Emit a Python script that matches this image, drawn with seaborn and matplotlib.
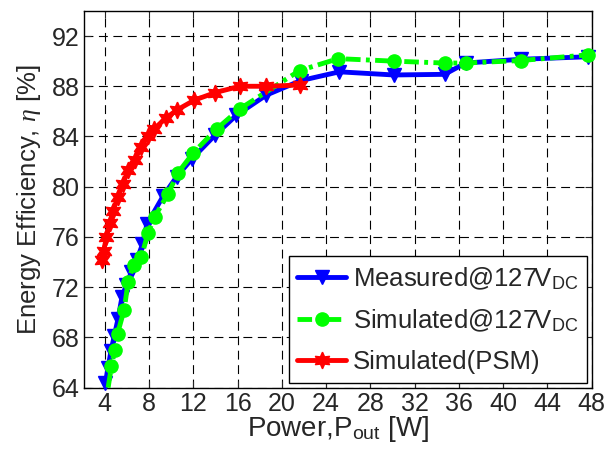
import matplotlib
matplotlib.use("Agg")
import matplotlib.pyplot as plt
import seaborn as sns
import pandas as pd

# Measured efficiency at 127 V DC input
p_meas = [4.05, 4.3, 4.55, 4.85, 5.2, 5.55, 5.95, 6.4, 6.9, 7.4, 7.8,
          9.3, 10.5, 11.85, 13.95, 15.9, 18.6, 21.7, 25.2, 30.1, 34.7,
          36.6, 41.6, 47.65]
eta_meas = [64.4, 65.6, 66.9, 68.1, 69.5, 71.2, 72.2, 73.2, 74.2, 75.4, 77.0,
            79.3, 80.8, 82.2, 84.1, 85.7, 87.3, 88.45, 89.15, 88.9, 88.95,
            89.85, 90.15, 90.35]

# Simulated efficiency at 127 V DC input
p_sim = [4.3, 4.6, 4.9, 5.15, 5.75, 6.1, 6.6, 7.3, 7.9, 8.5, 9.73, 10.6,
         12.0, 14.1, 16.2, 21.6, 25.1, 30.1, 34.7, 36.6, 41.6, 47.65]
eta_sim = [64.0, 65.7, 67.0, 68.3, 70.2, 72.4, 73.8, 74.4, 76.3, 77.6, 79.45,
           81.1, 82.7, 84.6, 86.2, 89.25, 90.2, 90.0, 89.85, 89.85, 90.05, 90.5]

# Simulated efficiency with phase-shift modulation
p_psm = [3.75, 3.9, 4.15, 4.45, 4.75, 5.2, 5.65, 6.1, 6.7, 7.3, 7.9, 8.45,
         9.5, 10.5, 12.1, 14.0, 16.2, 18.6, 21.6]
eta_psm = [74.2, 74.9, 76.0, 77.1, 78.1, 79.2, 80.25, 81.3, 82.1, 83.2, 84.0,
           84.6, 85.45, 86.1, 86.9, 87.5, 88.0, 88.0, 88.1]

labels = ["Measured@127V$_{\\mathrm{DC}}$",
          "Simulated@127V$_{\\mathrm{DC}}$",
          "Simulated(PSM)"]
x_ticks = list(range(4, 49, 4))
y_ticks = list(range(64, 93, 4))

sns.set_style("ticks")
plt.rcParams["font.family"] = ["Liberation Sans", "DejaVu Sans"]
plt.rcParams["mathtext.fontset"] = "custom"
plt.rcParams["mathtext.rm"] = "Liberation Sans"
plt.rcParams["mathtext.sf"] = "Liberation Sans"
plt.rcParams["mathtext.it"] = "Liberation Serif:italic"

fig = plt.figure(figsize=(6.16, 4.55), dpi=100)
ax = fig.add_axes([0.136, 0.148, 0.8246, 0.828])

df_meas = pd.DataFrame({"P": p_meas, "eta": eta_meas})
df_sim = pd.DataFrame({"P": p_sim, "eta": eta_sim})
df_psm = pd.DataFrame({"P": p_psm, "eta": eta_psm})

sns.lineplot(data=df_meas, x="P", y="eta", ax=ax, sort=False, estimator=None,
             color="#0000ff", linewidth=3.5, marker="v", markersize=10.5,
             markeredgecolor="#0000ff", markeredgewidth=1, label=labels[0],
             clip_on=False, zorder=3)
# the lowest simulated sample is drawn as a line end only
sns.lineplot(data=df_sim, x="P", y="eta", ax=ax, sort=False, estimator=None,
             color="#00ff00", linewidth=3.5, linestyle=(0, (3, 1.1, 0.8, 1.1)),
             marker="o", markersize=9.5, markeredgecolor="#00ff00",
             markeredgewidth=1, markevery=list(range(1, len(p_sim))),
             label=labels[1], clip_on=False, zorder=4)
sns.lineplot(data=df_psm, x="P", y="eta", ax=ax, sort=False, estimator=None,
             color="#ff0000", linewidth=3.5, marker=(6, 1, 0), markersize=12,
             markeredgecolor="#ff0000", markeredgewidth=1, label=labels[2],
             clip_on=False, zorder=5)

ax.set_xlim(2.1, 48)
ax.set_ylim(64, 94)
ax.set_xticks(x_ticks)
ax.set_yticks(y_ticks)
ax.tick_params(direction="in", top=True, right=True, length=5, width=0.8,
               labelsize=18, pad=3)
ax.grid(True, color="black", linestyle=(0, (8, 5)), linewidth=0.8)
for s in ax.spines.values():
    s.set_linewidth(1.0)
    s.set_color("black")

ax.set_xlabel("Power,P$_{\\mathrm{out}}$ [W]", fontsize=20, labelpad=-1)
ax.set_ylabel("Energy Efficiency, $\\eta$ [%]", fontsize=18.5, labelpad=6)

leg = ax.legend(loc="lower right", fontsize=18.5, frameon=True, fancybox=False,
                edgecolor="black", framealpha=1, numpoints=1,
                handlelength=1.9, handletextpad=0.25, labelspacing=0.62,
                borderpad=0.35, borderaxespad=0.18)
leg.get_frame().set_linewidth(1.0)

fig.savefig("out.png", dpi=100)
